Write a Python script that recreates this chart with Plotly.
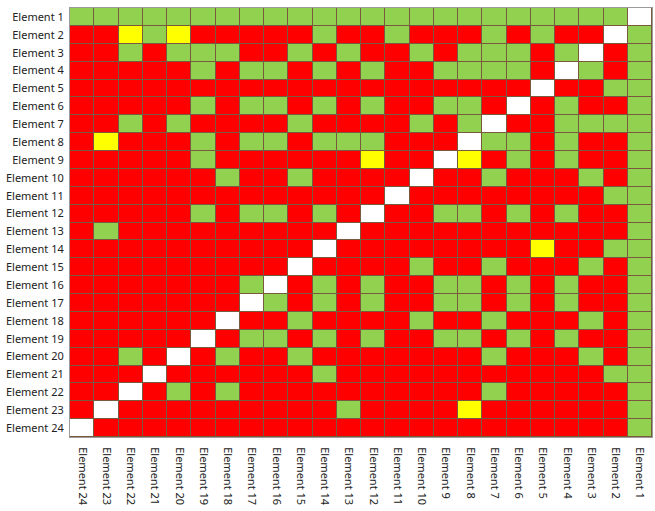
import plotly.graph_objects as go

row_labels = [f"Element {i}" for i in range(1, 25)]
col_labels = [f"Element {i}" for i in range(24, 0, -1)]

# R = red, G = green, Y = yellow, W = white (self)
status_rows = [
    "GGGGGGGGGGGGGGGGGGGGGGGW",
    "RRYGYRRRRRGRRGRRRGRGRRWG",
    "RRGRGGGRRGRGRRGRGGGRGWRG",
    "RRRRRGRGGRGRGRRGGGGRWGRG",
    "RRRRRRRRRRRRRRRRRRRWRRGG",
    "RRRRRGRGGRGRGRRGGRWRGRRG",
    "RRGRGRRRRGRRRRGRGWRRGGGG",
    "RYRRRGRGGRGGGRRRWGGRGRRG",
    "RRRRRGRRRRRRYRRWYRGRGRRG",
    "RRRRRRGRRGRRRRWRRGRRRGRG",
    "RRRRRRRRRRRRRWRRRRRRRRGG",
    "RRRRRGRGGRGRWRRGGRGRGRRG",
    "RGRRRRRRRRRWRRRRRRRRRRRG",
    "RRRRRRRRRRWRRRRRRRRYRRGG",
    "RRRRRRRRRWRRRRGRRGRRRGRG",
    "RRRRRRRGWRGRGRRGGRGRGRRG",
    "RRRRRRRWGRGRGRRGGRGRGRRG",
    "RRRRRRWRRGRRRRGRRGRRRGRG",
    "RRRRRWRGGRGRGRRGGRGRGRRG",
    "RRGRWRGRRGRRRRRRRGRRRGRG",
    "RRRWRRRRRRGRRRRRRRRRRRGG",
    "RRWRGRGRRRRRRRRRRGRRRRRG",
    "RWRRRRRRRRRGRRRRYRRRRRRG",
    "WRRRRRRRRRRRRRRRRRRRRRRG",
]
status_codes = {"R": 0, "G": 1, "Y": 2, "W": 3}
status_colors = ["#FF0000", "#92D050", "#FFFF00", "#FFFFFF"]

z = [[status_codes[ch] for ch in row] for row in status_rows]

n = len(status_colors)
colorscale = []
for k, c in enumerate(status_colors):
    colorscale.append([k / n, c])
    colorscale.append([(k + 1) / n, c])

fig = go.Figure(
    go.Heatmap(
        z=z,
        x=col_labels,
        y=row_labels,
        colorscale=colorscale,
        zmin=-0.5,
        zmax=n - 0.5,
        showscale=False,
        xgap=1,
        ygap=1,
        hoverinfo="skip",
    )
)

fig.update_layout(
    width=655,
    height=511,
    margin=dict(l=70, r=3, t=8, b=74),
    paper_bgcolor="white",
    plot_bgcolor="#7a5a3e",
    font=dict(family="Noto Sans", size=11, color="#222222"),
)
fig.update_xaxes(
    type="category",
    tickangle=90,
    side="bottom",
    showgrid=False,
    zeroline=False,
    automargin=False,
    ticks="outside",
    ticklen=7,
    tickcolor="rgba(0,0,0,0)",
    showline=True,
    linecolor="#9a9a9a",
    mirror=True,
    tickfont=dict(family="Noto Sans", size=11, color="#222222"),
)
fig.update_yaxes(
    type="category",
    autorange="reversed",
    showgrid=False,
    zeroline=False,
    automargin=False,
    ticks="outside",
    ticklen=3,
    tickcolor="rgba(0,0,0,0)",
    showline=True,
    linecolor="#9a9a9a",
    mirror=True,
    tickfont=dict(family="Noto Sans", size=11, color="#222222"),
)

fig.write_html(
    "out.html",
    config={"displayModeBar": False},
    post_script="document.body.style.margin='0';document.body.style.overflow='hidden';",
)
